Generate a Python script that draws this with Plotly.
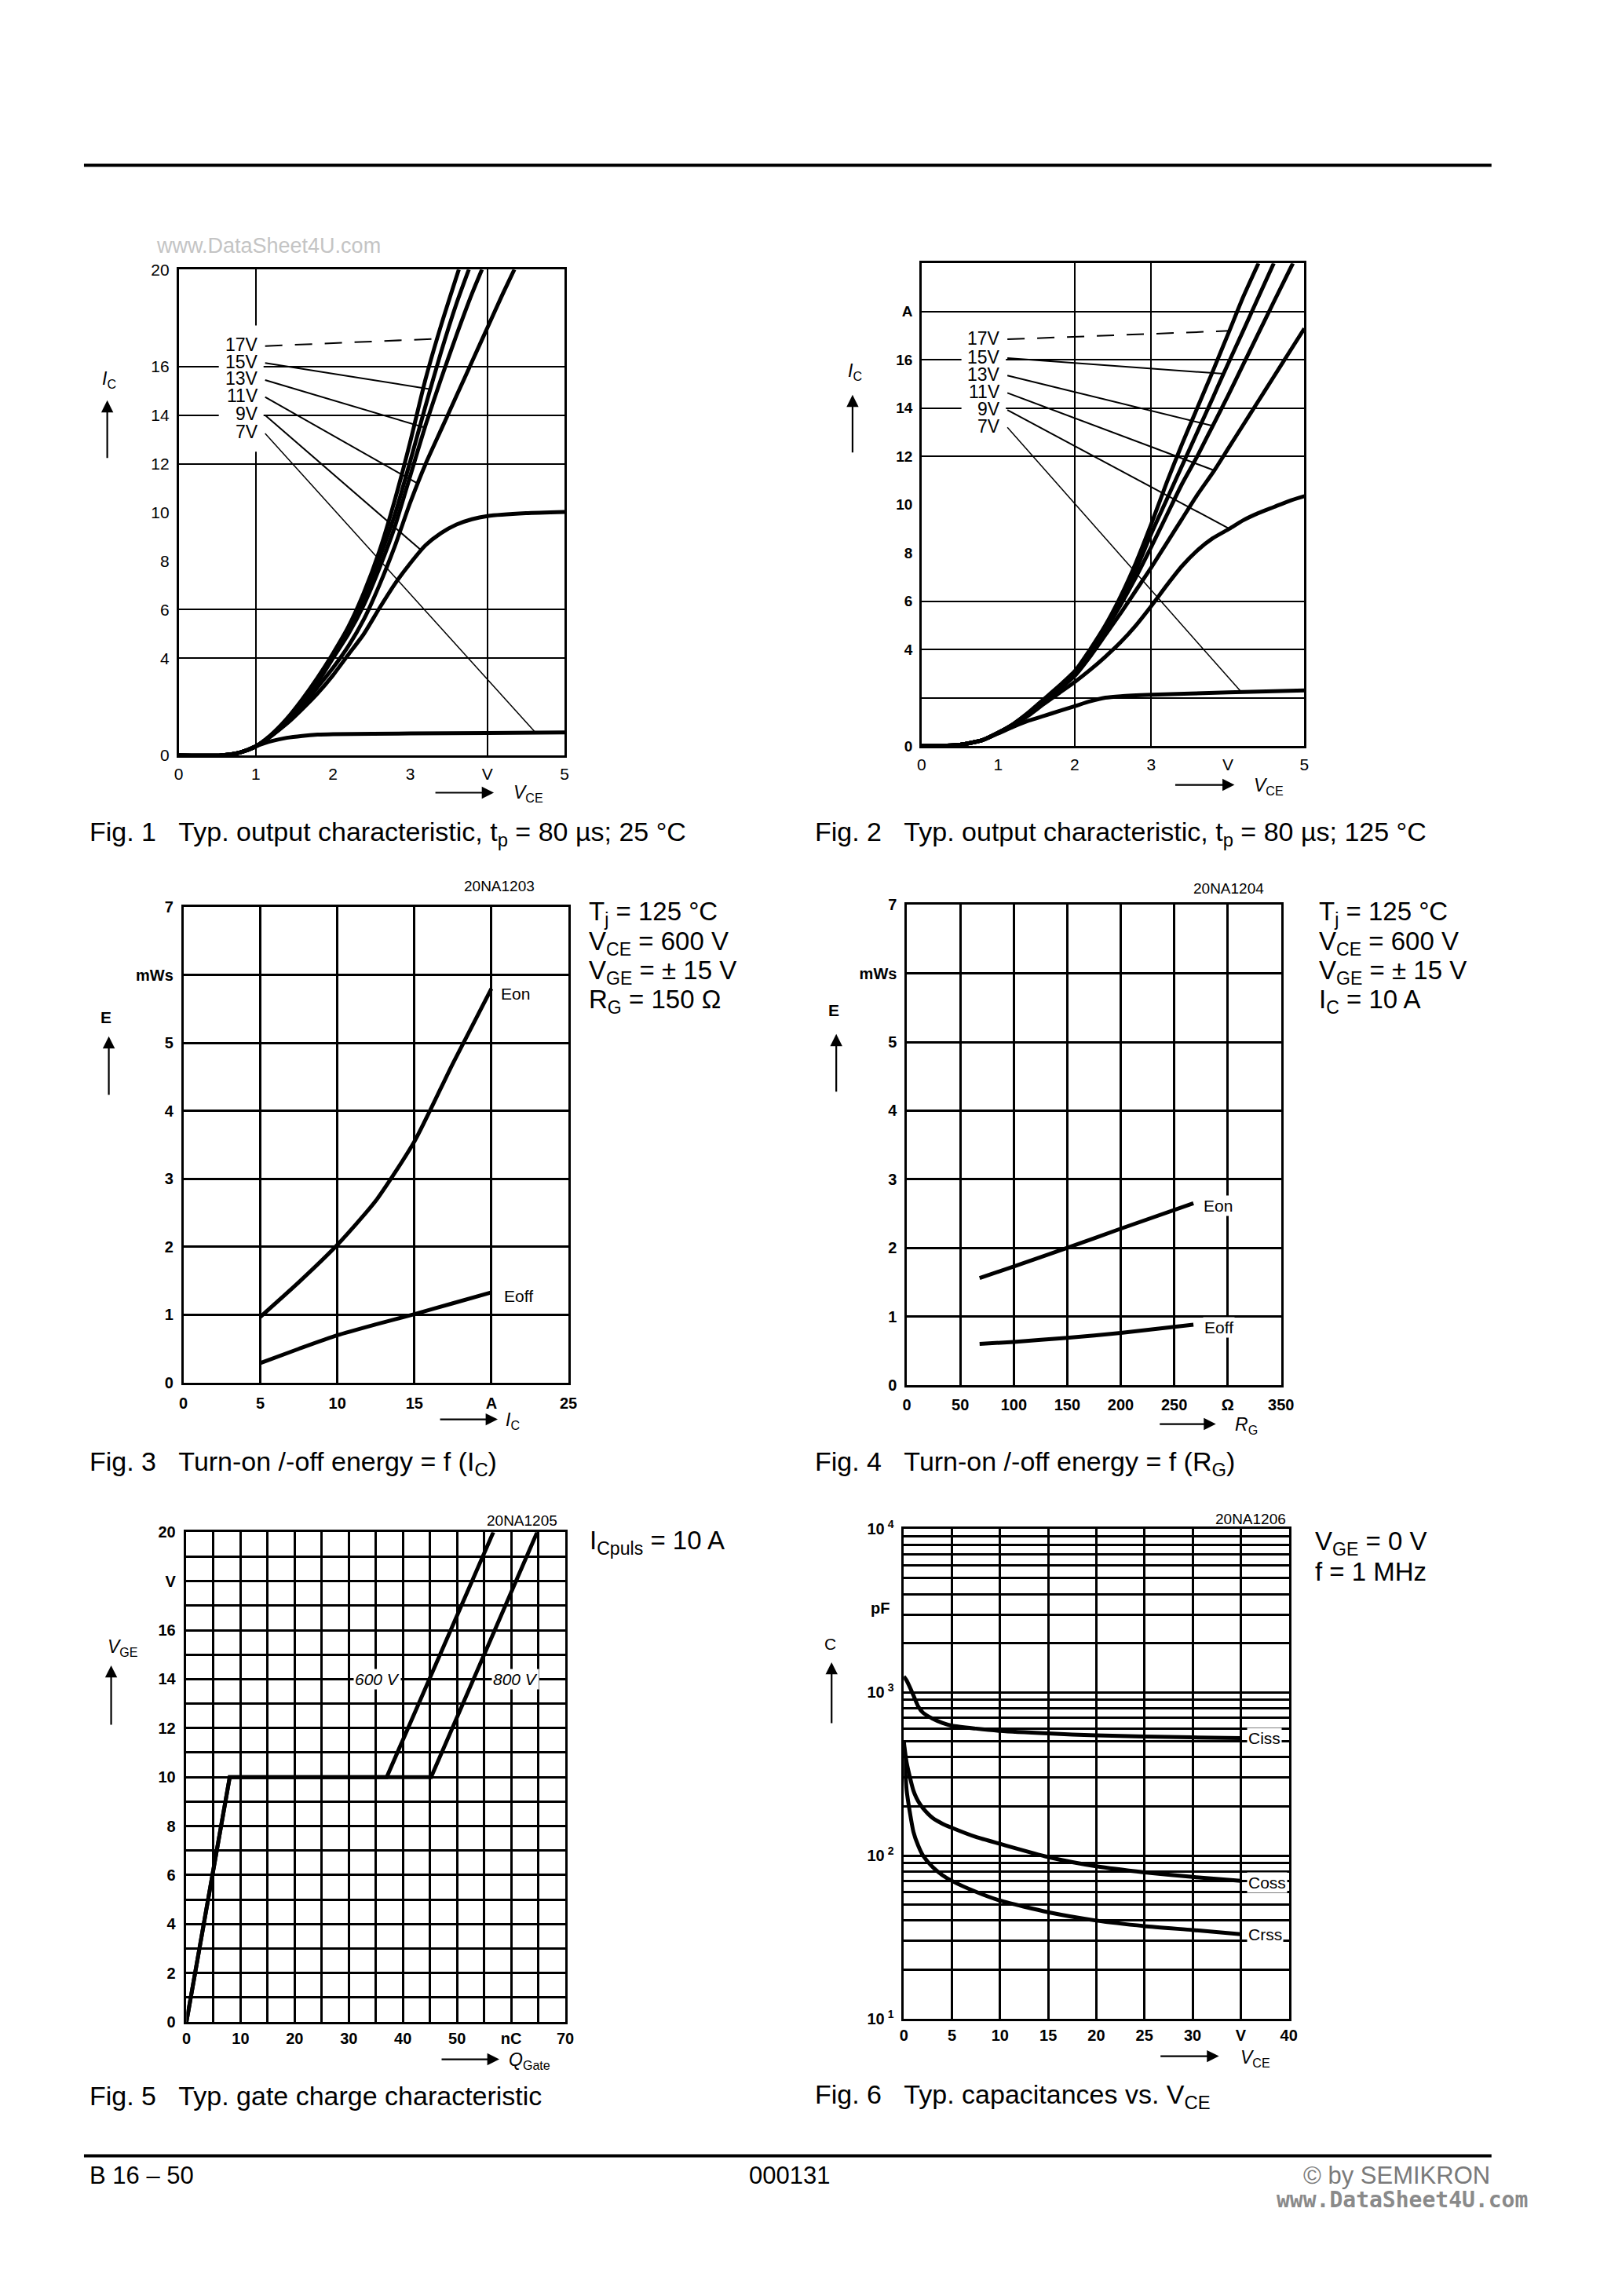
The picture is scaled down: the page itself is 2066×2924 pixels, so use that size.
import math
import plotly.graph_objects as go

W, H = 2066, 2924
FONT = "Liberation Sans, Arial, Helvetica, sans-serif"
K = "black"
DX, DY = -9, -17   # page offset correction (html body margin etc.)

# ---------------- Fig. 1 : output characteristic, 25 °C ----------------
f1_v17 = [0, 0.55, 0.8, 1.0, 1.2, 1.4, 1.6, 1.8, 2.0, 2.2, 2.4, 2.6, 2.8, 3.0, 3.2, 3.4, 3.63]
f1_i17 = [0, 0, 0.12, 0.37, 0.85, 1.5, 2.3, 3.2, 4.2, 5.3, 6.7, 8.4, 10.5, 12.9, 15.5, 17.7, 20]
f1_v15 = [0, 0.55, 0.8, 1.0, 1.2, 1.4, 1.6, 1.8, 2.0, 2.2, 2.4, 2.6, 2.8, 3.0, 3.2, 3.4, 3.6, 3.76]
f1_i15 = [0, 0, 0.12, 0.37, 0.84, 1.47, 2.25, 3.1, 4.1, 5.2, 6.5, 8.1, 9.9, 12.1, 14.4, 16.6, 18.6, 20]
f1_v13 = [0, 0.55, 0.8, 1.0, 1.2, 1.4, 1.6, 1.8, 2.0, 2.2, 2.4, 2.6, 2.8, 3.0, 3.2, 3.4, 3.6, 3.8, 3.93]
f1_i13 = [0, 0, 0.12, 0.37, 0.83, 1.43, 2.17, 3.0, 4.0, 5.0, 6.2, 7.7, 9.4, 11.5, 13.6, 15.5, 17.3, 19.0, 20]
f1_v11 = [0, 0.55, 0.8, 1.0, 1.2, 1.4, 1.6, 1.8, 2.0, 2.2, 2.4, 2.6, 2.8, 3.0, 3.2, 3.4, 3.6, 3.8, 4.0, 4.2, 4.35]
f1_i11 = [0, 0, 0.12, 0.37, 0.8, 1.35, 2.0, 2.8, 3.6, 4.5, 5.6, 7.0, 8.6, 10.4, 12.0, 13.4, 14.8, 16.2, 17.6, 19.0, 20]
f1_v9 = [0, 0.55, 0.8, 1.0, 1.2, 1.4, 1.6, 1.8, 2.0, 2.2, 2.4, 2.6, 2.8, 3.0, 3.2, 3.4, 3.6, 3.8, 4.0, 4.5, 5.0]
f1_i9 = [0, 0, 0.12, 0.37, 0.8, 1.3, 1.9, 2.55, 3.3, 4.15, 5.0, 6.05, 7.05, 7.9, 8.65, 9.15, 9.5, 9.72, 9.85, 9.97, 10.02]
f1_v7 = [0, 0.55, 0.8, 1.0, 1.2, 1.4, 1.6, 1.8, 2.0, 3.0, 4.0, 5.0]
f1_i7 = [0, 0, 0.12, 0.37, 0.58, 0.72, 0.8, 0.85, 0.87, 0.9, 0.92, 0.94]
f1_labels = ["17V", "15V", "13V", "11V", "9V", "7V"]
f1_label_i = [16.9, 16.2, 15.5, 14.8, 14.05, 13.3]
f1_lead_v = [3.35, 3.25, 3.18, 3.09, 3.14, 4.62]
f1_lead_i = [17.15, 15.08, 13.5, 11.2, 8.45, 0.95]

# ---------------- Fig. 2 : output characteristic, 125 °C ----------------
f2_v17 = [0, 0.5, 0.8, 1.0, 1.2, 1.4, 1.6, 1.8, 2.0, 2.2, 2.4, 2.6, 2.8, 3.0, 3.2, 3.4, 3.6, 3.8, 4.02, 4.2, 4.4]
f2_i17 = [0, 0.05, 0.25, 0.55, 0.92, 1.4, 1.95, 2.5, 3.1, 4.0, 5.0, 6.2, 7.6, 9.2, 10.9, 12.5, 14.0, 15.5, 17.2, 18.6, 20]
f2_v15 = [0, 0.5, 0.8, 1.0, 1.2, 1.4, 1.6, 1.8, 2.0, 2.2, 2.4, 2.6, 2.8, 3.0, 3.2, 3.4, 3.6, 3.8, 3.94, 4.2, 4.4, 4.6]
f2_i15 = [0, 0.05, 0.25, 0.55, 0.91, 1.38, 1.92, 2.47, 3.05, 3.9, 4.9, 6.0, 7.3, 8.8, 10.2, 11.6, 13.0, 14.4, 15.4, 17.2, 18.6, 20]
f2_v13 = [0, 0.5, 0.8, 1.0, 1.2, 1.4, 1.6, 1.8, 2.0, 2.2, 2.4, 2.6, 2.8, 3.0, 3.2, 3.4, 3.6, 3.8, 4.0, 4.2, 4.4, 4.6, 4.85]
f2_i13 = [0, 0.05, 0.25, 0.55, 0.9, 1.36, 1.88, 2.42, 3.0, 3.85, 4.8, 5.85, 7.0, 8.25, 9.55, 10.85, 12.0, 13.25, 14.5, 15.8, 17.1, 18.4, 20]
f2_v11 = [0, 0.5, 0.8, 1.0, 1.2, 1.4, 1.6, 1.8, 2.0, 2.2, 2.4, 2.6, 2.8, 3.0, 3.2, 3.4, 3.6, 3.82, 4.0, 4.2, 4.4, 4.6, 4.8, 5.0]
f2_i11 = [0, 0.05, 0.25, 0.55, 0.89, 1.33, 1.83, 2.35, 2.9, 3.7, 4.6, 5.5, 6.45, 7.4, 8.4, 9.4, 10.4, 11.4, 12.3, 13.3, 14.3, 15.3, 16.3, 17.3]
f2_v9 = [0, 0.5, 0.8, 1.0, 1.2, 1.4, 1.6, 1.8, 2.0, 2.2, 2.4, 2.6, 2.8, 3.0, 3.2, 3.4, 3.6, 3.8, 4.02, 4.2, 4.4, 4.6, 4.8, 5.0]
f2_i9 = [0, 0.05, 0.25, 0.54, 0.86, 1.27, 1.75, 2.2, 2.65, 3.15, 3.7, 4.3, 5.0, 5.8, 6.65, 7.45, 8.1, 8.6, 9.0, 9.35, 9.65, 9.9, 10.15, 10.35]
f2_v7 = [0, 0.5, 0.8, 1.0, 1.2, 1.4, 1.6, 1.8, 2.0, 2.2, 2.4, 2.6, 3.0, 4.0, 5.0]
f2_i7 = [0, 0.05, 0.25, 0.52, 0.8, 1.05, 1.25, 1.45, 1.65, 1.85, 2.0, 2.06, 2.12, 2.22, 2.3]
f2_labels = ["17V", "15V", "13V", "11V", "9V", "7V"]
f2_label_i = [16.9, 16.12, 15.4, 14.68, 13.97, 13.25]
f2_lead_v = [4.02, 3.95, 3.81, 3.82, 4.02, 4.16]
f2_lead_i = [17.2, 15.42, 13.26, 11.42, 9.0, 2.29]

# ---------------- Fig. 3 : E = f(Ic) ----------------
f3_ic = [5, 7.5, 10, 12.5, 15, 17.5, 20]
f3_eon = [0.97, 1.48, 2.03, 2.68, 3.55, 4.7, 5.8]
f3_eoff = [0.29, 0.5, 0.7, 0.86, 1.01, 1.17, 1.33]

# ---------------- Fig. 4 : E = f(Rg) ----------------
f4_rg = [68, 100, 150, 200, 268]
f4_eon = [1.56, 1.73, 2.0, 2.28, 2.65]
f4_eoff = [0.6, 0.63, 0.69, 0.76, 0.88]

# ---------------- Fig. 5 : gate charge ----------------
f5_q600 = [0, 8, 37, 56.7]
f5_v600 = [0, 10, 10, 20]
f5_q800 = [0, 8, 45.2, 64.8]
f5_v800 = [0, 10, 10, 20]

# ---------------- Fig. 6 : capacitances ----------------
f6_vce = [0, 0.3, 1, 1.5, 2, 3, 4, 5, 7.5, 10, 15, 20, 25, 30, 35]
f6_ciss = [1250, 1180, 960, 820, 750, 690, 650, 625, 600, 581, 560, 545, 537, 530, 524]
f6_coss = [500, 370, 250, 215, 195, 170, 157, 148, 130, 118, 98, 86, 79, 74, 70]
f6_crss = [500, 250, 140, 115, 100, 85, 76, 70, 60, 53, 45, 40, 37, 35, 33]

# ---------------- page geometry (pixels) ----------------
FRAMES = {
    1: (225, 722, 341, 965),
    2: (1182, 1675, 333, 953),
    3: (231, 727, 1160, 1771),
    4: (1163, 1645, 1157, 1774),
    5: (235, 723, 1963, 2592),
    6: (1159, 1655, 1959, 2588),
}


def px(x):
    return (x + DX) / W


def py(y):
    return 1 - (y + DY) / H


fig = go.Figure()
annotations = []
shapes = []


def ax_names(i):
    return ("x" if i == 1 else f"x{i}", "y" if i == 1 else f"y{i}")


def line(i, xs, ys, width=5.0, dash="solid", shape="spline"):
    xa, ya = ax_names(i)
    fig.add_trace(go.Scatter(x=xs, y=ys, xaxis=xa, yaxis=ya, mode="lines",
                             line=dict(color=K, width=width, dash=dash, shape=shape, smoothing=0.6),
                             showlegend=False, hoverinfo="skip"))


def text(x, y, s, size=20, xanchor="left", yanchor="middle", color=K, family=FONT, xref="paper", yref="paper", bg=None):
    a = dict(x=px(x) if xref == "paper" else x, y=py(y) if yref == "paper" else y,
             xref=xref, yref=yref, text=s, showarrow=False, xanchor=xanchor, yanchor=yanchor,
             font=dict(family=family, size=size, color=color))
    if bg:
        a["bgcolor"] = bg
        a["borderpad"] = 1
    annotations.append(a)


def arrow(xh, yh, xt, yt):
    annotations.append(dict(x=px(xh), y=py(yh), xref="paper", yref="paper", text="",
                            showarrow=True, ax=xt - xh, ay=yt - yh, axref="pixel", ayref="pixel",
                            arrowhead=2, arrowsize=1.4, arrowwidth=2.2, arrowcolor=K))


def axis(i, rng, tickvals, ticktext, grid=False, gridw=2.0, minor=None, bold=False, standoff=8,
         typ="linear", dim="x", size=20):
    l, r, t, b = FRAMES[i]
    dom = [px(l), px(r)] if dim == "x" else [py(b), py(t)]
    xa, ya = ax_names(i)
    d = dict(domain=dom, range=rng, type=typ, anchor=(ya if dim == "x" else xa),
             showline=True, mirror=True, linecolor=K, linewidth=2.5, zeroline=False,
             showgrid=grid, gridcolor=K, gridwidth=gridw, ticks="", fixedrange=True,
             tickmode="array", tickvals=tickvals, ticktext=ticktext, ticklabelstandoff=standoff,
             tickfont=dict(family=FONT, size=size, color=K, weight=("bold" if bold else "normal")))
    if minor is not None:
        d["minor"] = dict(tickmode="array", tickvals=minor, showgrid=True, gridcolor=K, gridwidth=gridw, ticks="")
    return d


layout_axes = {}


def set_axes(i, xd, yd):
    layout_axes["xaxis" if i == 1 else f"xaxis{i}"] = xd
    layout_axes["yaxis" if i == 1 else f"yaxis{i}"] = yd


# ---- Fig 1 ----
set_axes(1,
         axis(1, [0, 5], [0, 1, 2, 3, 4, 5], ["0", "1", "2", "3", "V", "5"], minor=[1, 4], standoff=3, dim="x", size=21),
         axis(1, [0, 20], [0, 4, 6, 8, 10, 12, 14, 16, 20], ["0", "4", "6", "8", "10", "12", "14", "16", "20"],
              minor=[4, 6, 12, 14, 16], standoff=5, dim="y", size=21))
shapes.append(dict(type="rect", xref="x", yref="y", x0=0.52, x1=1.1, y0=12.5, y1=17.7,
                   fillcolor="white", line=dict(width=0), layer="between"))
for v, i_ in [(f1_v17, f1_i17), (f1_v15, f1_i15), (f1_v13, f1_i13), (f1_v11, f1_i11), (f1_v9, f1_i9), (f1_v7, f1_i7)]:
    line(1, v, i_)
for n, (lab, ly, ev, ei) in enumerate(zip(f1_labels, f1_label_i, f1_lead_v, f1_lead_i)):
    line(1, [1.12, ev], [ly - 0.05, ei], width=(2.0 if n < 5 else 1.5), dash=("22px,16px" if n == 0 else "solid"), shape="linear")
    text(1.05, ly, lab, size=23, xanchor="right", xref="x", yref="y")

# ---- Fig 2 ----
set_axes(2,
         axis(2, [0, 5], [0, 1, 2, 3, 4, 5], ["0", "1", "2", "3", "V", "5"], minor=[2, 3], standoff=3, dim="x", size=21),
         axis(2, [0, 20], [0, 4, 6, 8, 10, 12, 14, 16, 18], ["0", "4", "6", "8", "10", "12", "14", "16", "A"],
              minor=[2, 4, 6, 12, 14, 16, 18], standoff=5, bold=True, dim="y", size=19))
shapes.append(dict(type="rect", xref="x2", yref="y2", x0=0.52, x1=1.1, y0=12.6, y1=17.6,
                   fillcolor="white", line=dict(width=0), layer="between"))
for v, i_ in [(f2_v17, f2_i17), (f2_v15, f2_i15), (f2_v13, f2_i13), (f2_v11, f2_i11), (f2_v9, f2_i9), (f2_v7, f2_i7)]:
    line(2, v, i_)
for n, (lab, ly, ev, ei) in enumerate(zip(f2_labels, f2_label_i, f2_lead_v, f2_lead_i)):
    line(2, [1.12, ev], [ly - 0.05, ei], width=(2.0 if n < 5 else 1.5), dash=("22px,16px" if n == 0 else "solid"), shape="linear")
    text(1.05, ly, lab, size=23, xanchor="right", xref="x2", yref="y2")

# ---- Fig 3 ----
set_axes(3,
         axis(3, [0, 25], [0, 5, 10, 15, 20, 25], ["0", "5", "10", "15", "A", "25"], grid=True, gridw=2.5, bold=True, standoff=6, dim="x"),
         axis(3, [0, 7], [0, 1, 2, 3, 4, 5, 6, 7], ["0", "1", "2", "3", "4", "5", "mWs", "7"], grid=True, gridw=2.5, bold=True, standoff=6, dim="y"))
line(3, f3_ic, f3_eon)
line(3, f3_ic, f3_eoff)
text(20.5, 5.72, "Eon", size=21, xref="x3", yref="y3")
text(20.7, 1.28, "Eoff", size=21, xref="x3", yref="y3")

# ---- Fig 4 ----
set_axes(4,
         axis(4, [0, 350], [0, 50, 100, 150, 200, 250, 300, 350], ["0", "50", "100", "150", "200", "250", "Ω", "350"],
              grid=True, gridw=2.5, bold=True, standoff=5, dim="x"),
         axis(4, [0, 7], [0, 1, 2, 3, 4, 5, 6, 7], ["0", "1", "2", "3", "4", "5", "mWs", "7"], grid=True, gridw=2.5, bold=True, standoff=6, dim="y"))
line(4, f4_rg, f4_eon)
line(4, f4_rg, f4_eoff)
text(276, 2.62, "Eon", size=21, xref="x4", yref="y4", bg="white")
text(277, 0.84, "Eoff", size=21, xref="x4", yref="y4", bg="white")

# ---- Fig 5 ----
set_axes(5,
         axis(5, [0, 70], [0, 10, 20, 30, 40, 50, 60, 70], ["0", "10", "20", "30", "40", "50", "nC", "70"],
              grid=True, gridw=2.5, minor=[5, 15, 25, 35, 45, 55, 65], bold=True, standoff=1, dim="x"),
         axis(5, [0, 20], [0, 2, 4, 6, 8, 10, 12, 14, 16, 18, 20], ["0", "2", "4", "6", "8", "10", "12", "14", "16", "V", "20"],
              grid=True, gridw=2.5, minor=[1, 3, 5, 7, 9, 11, 13, 15, 17, 19], bold=True, standoff=7, dim="y"))
line(5, f5_q600, f5_v600, shape="linear")
line(5, f5_q800, f5_v800, shape="linear")
text(35.2, 14.0, "<i>600 V</i>", size=21, xanchor="center", xref="x5", yref="y5", bg="white")
text(60.8, 14.0, "<i>800 V</i>", size=21, xanchor="center", xref="x5", yref="y5", bg="white")

# ---- Fig 6 ----
f6_minor = [k * 10 ** d for d in (1, 2, 3) for k in range(2, 10)]
set_axes(6,
         axis(6, [0, 40], [0, 5, 10, 15, 20, 25, 30, 35, 40], ["0", "5", "10", "15", "20", "25", "30", "V", "40"],
              grid=True, gridw=2.5, bold=True, standoff=1, dim="x"),
         axis(6, [1, 4], [10, 100, 1000, 10000], ["10<sup> 1</sup>", "10<sup> 2</sup>", "10<sup> 3</sup>", "10<sup> 4</sup>"],
              grid=True, gridw=2.5, minor=f6_minor, bold=True, standoff=6, typ="log", dim="y"))
line(6, f6_vce, f6_ciss)
line(6, f6_vce, f6_coss)
line(6, f6_vce, f6_crss)
# annotations on a log axis take log10 positions
text(35.6, math.log10(f6_ciss[-1]), "Ciss", size=21, xref="x6", yref="y6", bg="white")
text(35.6, math.log10(f6_coss[-1]) - 0.01, "Coss", size=21, xref="x6", yref="y6", bg="white")
text(35.6, math.log10(f6_crss[-1]), "Crss", size=21, xref="x6", yref="y6", bg="white")

# ---------------- axis titles and arrows ----------------
text(135, 482, "<i>I</i><sub>C</sub>", size=23, xanchor="center")
arrow(133, 509, 133, 584)
arrow(631, 1013, 555, 1013)
text(654, 1014, "<i>V</i><sub>CE</sub>", size=23)

text(1096, 472, "<i>I</i><sub>C</sub>", size=23, xanchor="center")
arrow(1093, 502, 1093, 577)
arrow(1585, 1003, 1508, 1003)
text(1608, 1005, "<i>V</i><sub>CE</sub>", size=23)

text(131, 1301, "<b>E</b>", size=21, xanchor="center")
arrow(135, 1326, 135, 1402)
arrow(636, 1818, 561, 1818)
text(644, 1820, "<i>I</i><sub>C</sub>", size=23)

text(1069, 1292, "<b>E</b>", size=21, xanchor="center")
arrow(1072, 1323, 1072, 1398)
arrow(1561, 1824, 1488, 1824)
text(1584, 1826, "<i>R</i><sub>G</sub>", size=23)

text(153, 2111, "<i>V</i><sub>GE</sub>", size=23, xanchor="center")
arrow(138, 2134, 138, 2211)
arrow(638, 2640, 563, 2640)
text(648, 2642, "<i>Q</i><sub>Gate</sub>", size=23)

text(1064, 2106, "C", size=21, xanchor="center")
arrow(1066, 2130, 1066, 2209)
arrow(1565, 2636, 1489, 2636)
text(1591, 2639, "<i>V</i><sub>CE</sub>", size=23)
text(1128, 2060, "<b>pF</b>", size=20, xanchor="center")

# ---------------- figure ids and conditions ----------------
text(638, 1133, "20NA1203", size=19, xanchor="center")
text(1577, 1136, "20NA1204", size=19, xanchor="center")
text(667, 1948, "20NA1205", size=19, xanchor="center")
text(1606, 1946, "20NA1206", size=19, xanchor="center")

cond3 = ["T<sub>j</sub> = 125 °C", "V<sub>CE</sub> = 600 V", "V<sub>GE</sub> = ± 15 V", "R<sub>G</sub> = 150 Ω"]
cond4 = ["T<sub>j</sub> = 125 °C", "V<sub>CE</sub> = 600 V", "V<sub>GE</sub> = ± 15 V", "I<sub>C</sub> = 10 A"]
cond_y = [1168, 1206, 1243, 1281]
for s, y in zip(cond3, cond_y):
    text(751, y, s, size=33)
for s, y in zip(cond4, cond_y):
    text(1692, y, s, size=33)
text(752, 1976, "I<sub>Cpuls</sub> = 10 A", size=33)
text(1687, 1977, "V<sub>GE</sub> = 0 V", size=33)
text(1687, 2014, "f = 1 MHz", size=33)

# ---------------- captions ----------------
SP = "\u00a0\u00a0\u00a0"
CAP = 34
text(108, 1065, "Fig. 1" + SP + "Typ. output characteristic, t<sub>p</sub> = 80 µs; 25 °C", size=CAP)
text(1043, 1065, "Fig. 2" + SP + "Typ. output characteristic, t<sub>p</sub> = 80 µs; 125 °C", size=CAP)
text(108, 1874, "Fig. 3" + SP + "Turn-on /-off energy = f (I<sub>C</sub>)", size=CAP)
text(1043, 1874, "Fig. 4" + SP + "Turn-on /-off energy = f (R<sub>G</sub>)", size=CAP)
text(108, 2687, "Fig. 5" + SP + "Typ. gate charge characteristic", size=CAP)
text(1043, 2687, "Fig. 6" + SP + "Typ. capacitances vs. V<sub>CE</sub>", size=CAP)

# ---------------- page header / footer ----------------
shapes.append(dict(type="line", xref="paper", yref="paper", x0=px(103), x1=px(1916), y0=py(207), y1=py(207),
                   line=dict(color=K, width=4)))
shapes.append(dict(type="line", xref="paper", yref="paper", x0=px(103), x1=px(1916), y0=py(2764), y1=py(2764),
                   line=dict(color=K, width=4)))
text(194, 311, "www.DataSheet4U.com", size=27, color="#c4c4c4")
text(108, 2789, "B 16 – 50", size=31)
text(1012, 2789, "000131", size=31, xanchor="center")
text(1916, 2789, "© by SEMIKRON", size=31, xanchor="right", color="#7a7a7a")
text(1965, 2820, "<b>www.DataSheet4U.com</b>", size=28, xanchor="right", color="#8a8a8a",
     family="DejaVu Sans Mono, Liberation Mono, monospace")

fig.update_layout(width=W, height=H, autosize=False, margin=dict(l=0, r=0, t=0, b=0),
                  paper_bgcolor="white", plot_bgcolor="white", showlegend=False,
                  font=dict(family=FONT, color=K), annotations=annotations, shapes=shapes,
                  **layout_axes)

fig.write_html("out.html")
